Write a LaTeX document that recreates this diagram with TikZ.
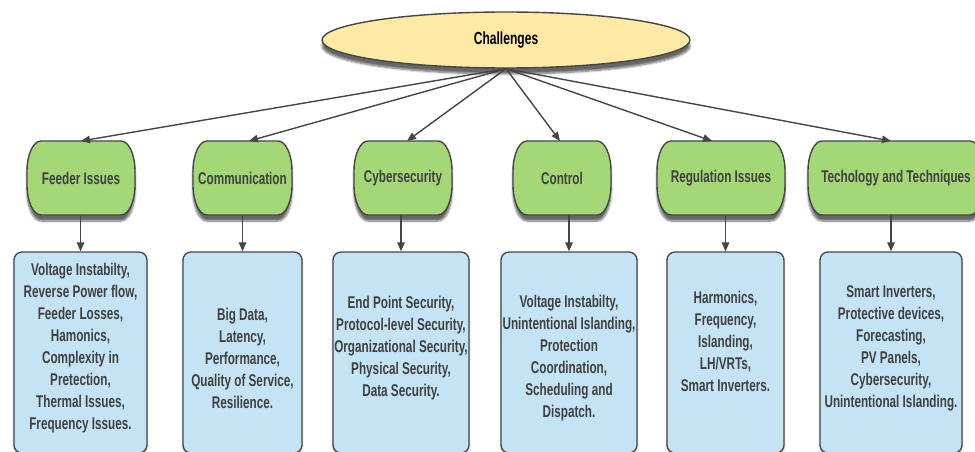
\documentclass[tikz,border=0pt]{standalone}
\usepackage{fontspec}
\setmainfont{Liberation Sans}[FakeStretch=0.69]
\usetikzlibrary{arrows.meta,shapes.geometric,shadows.blur,calc}
\definecolor{lineg}{HTML}{454545}
\definecolor{txtg}{HTML}{404040}
\definecolor{greenf}{HTML}{A4D876}
\definecolor{yellowf}{HTML}{FFEAA5}
\definecolor{bluef}{HTML}{C4E4F6}
% #1 name, #2 x, #3 y, #4 width, #5 text
\newcommand\hdrnode[5]{%
  \path[hdrbg] ({#2-#4/2+14},{#3-37}) -- ({#2+#4/2-14},{#3-37})
    arc[start angle=90,end angle=0,x radius=14pt,y radius=30pt]
    -- ({#2+#4/2},{#3+7})
    arc[start angle=0,end angle=-90,x radius=14pt,y radius=30pt]
    -- ({#2-#4/2+14},{#3+37})
    arc[start angle=270,end angle=180,x radius=14pt,y radius=30pt]
    -- ({#2-#4/2},{#3-7})
    arc[start angle=180,end angle=90,x radius=14pt,y radius=30pt] -- cycle;
  \node[hdr, minimum width=#4pt] (#1) at (#2,#3) {#5};}
\begin{document}
\begin{tikzpicture}[x=1pt,y=-1pt,
  basefont/.style={font=\bfseries\fontsize{17}{22}\selectfont},
  root/.style={ellipse, draw=lineg, line width=1.4pt, fill=yellowf, minimum width=368pt, minimum height=56pt, inner sep=0pt,
    font=\bfseries\fontsize{17.5}{20}\selectfont, text=black,
    blur shadow={shadow xshift=0pt, shadow yshift=-6pt, shadow blur steps=6, shadow opacity=60}},
  hdr/.style={basefont, text=txtg, draw=none, inner sep=0pt, outer sep=0pt, minimum height=74pt},
  hdrbg/.style={fill=greenf, draw=lineg, line width=1.4pt,
    blur shadow={shadow xshift=0pt, shadow yshift=-6pt, shadow blur steps=6, shadow opacity=60}},
  box/.style={draw=lineg, line width=1.3pt, fill=bluef, rounded corners=8pt, inner sep=0pt, minimum height=201pt,
    blur shadow={shadow xshift=0pt, shadow yshift=-2pt, shadow blur steps=4, shadow opacity=30}},
  txt/.style={basefont, text=txtg, align=center, inner sep=0pt},
  arr/.style={draw=lineg, line width=1.4pt, -{Triangle[length=9pt,width=7.5pt]}}
]
\useasboundingbox (0,0) rectangle (975,452);

\node[root] (ch) at (506,40) {Challenges};

\hdrnode{h1}{81}{178}{108}{Feeder Issues}
\hdrnode{h2}{242.5}{178}{99}{Communication}
\hdrnode{h3}{403}{178}{98}{Cybersecurity}
\hdrnode{h4}{562}{178}{98}{Control}
\hdrnode{h5}{721}{178}{128}{Regulation Issues}
\hdrnode{h6}{896}{178}{176}{Techology and Techniques}

\node[box, minimum width=133pt] (b1) at (80.5,352.5) {};
\node[box, minimum width=119pt] (b2) at (242.5,352.5) {};
\node[box, minimum width=136pt] (b3) at (401,352.5) {};
\node[box, minimum width=136pt] (b4) at (569,352.5) {};
\node[box, minimum width=117pt] (b5) at (725.5,352.5) {};
\node[box, minimum width=142pt] (b6) at (891,352.5) {};

\node[txt, yshift=4pt] (t1) at (b1) {Voltage Instabilty,\\Reverse Power flow,\\Feeder Losses,\\Hamonics,\\Complexity in\\Pretection,\\Thermal Issues,\\Frequency Issues.};
\node[txt, yshift=-5.5pt] (t2) at (b2) {Big Data,\\Latency,\\Performance,\\Quality of Service,\\Resilience.};
\node[txt, yshift=4.5pt] (t3) at (b3) {End Point Security,\\Protocol-level Security,\\Organizational Security,\\Physical Security,\\Data Security.};
\node[txt, yshift=-5.5pt] (t4) at (b4) {Voltage Instabilty,\\Unintentional Islanding,\\Protection\\Coordination,\\Scheduling and\\Dispatch.};
\node[txt, yshift=11.5pt] (t5) at (b5) {Harmonics,\\Frequency,\\Islanding,\\LH/VRTs,\\Smart Inverters.};
\node[txt, yshift=4.5pt] (t6) at (b6) {Smart Inverters,\\Protective devices,\\Forecasting,\\PV Panels,\\Cybersecurity,\\Unintentional Islanding.};

\draw[arr] (ch.south) -- (h1.north);
\draw[arr] (ch.south) -- ([xshift=6.5pt]h2.north);
\draw[arr] (ch.south) -- ([xshift=4pt]h3.north);
\draw[arr] (ch.south) -- ([xshift=-2pt]h4.north);
\draw[arr] (ch.south) -- ([xshift=-9pt]h5.north);
\draw[arr] (ch.south) -- ([xshift=-5pt]h6.north);

\draw[arr] (b1.north |- h1.south) -- (b1.north);
\draw[arr] (b2.north |- h2.south) -- (b2.north);
\draw[arr] (b3.north |- h3.south) -- (b3.north);
\draw[arr] (b4.north |- h4.south) -- (b4.north);
\draw[arr] (b5.north |- h5.south) -- (b5.north);
\draw[arr] (b6.north |- h6.south) -- (b6.north);
\end{tikzpicture}
\end{document}
